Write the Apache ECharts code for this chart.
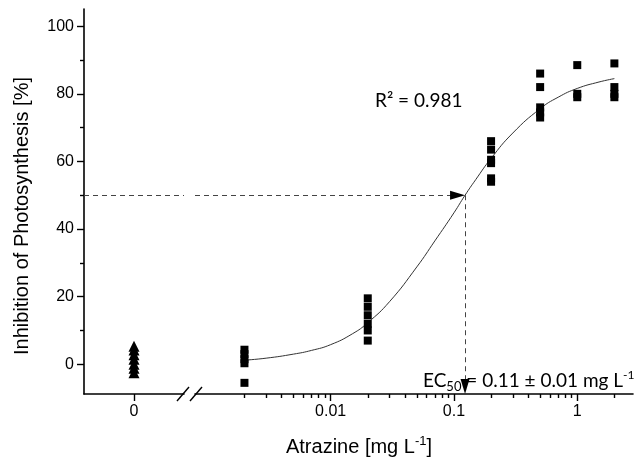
<!DOCTYPE html>
<html>
<head>
<meta charset="utf-8">
<script src="https://cdn.jsdelivr.net/npm/echarts@6/dist/echarts.min.js"></script>
<style>html,body{margin:0;padding:0;background:#fff}#c{width:638px;height:464px}</style>
</head>
<body>
<div id="c"></div>
<script>
// ---- data ----
const controlValues = [5.3, 4.2, 2.8, 1.5, 0, -1.2, -2.5];           // 0 mg/L (triangles)
const doseConc = [0.002, 0.02, 0.2, 0.5, 1, 2];                       // mg/L
const doseValues = [
  [4.3, 3.0, 1.5, 0.3, -5.5],
  [19.5, 17, 14.5, 12, 10, 7],
  [66, 63.5, 60.5, 59.5, 55, 54],
  [86, 82, 76, 74.5, 73],
  [88.5, 80, 79],
  [89, 82, 80, 79]
];
const fitConc = [0.002, 0.003, 0.005, 0.007, 0.01, 0.015, 0.02, 0.03, 0.05, 0.07, 0.1, 0.123, 0.15, 0.2, 0.3, 0.5, 0.7, 1, 1.5, 2];
const fitValues = [1.2, 1.8, 3.0, 4.1, 5.8, 9.0, 12.3, 18.5, 28.8, 36.5, 44.8, 50, 54.6, 60.9, 68.4, 75.6, 79, 81.6, 83.5, 84.5];
const ec50 = 0.123;
const xTickConc = [0.01, 0.1, 1];
const xTickLabels = ['0.01', '0.1', '1'];
const xMinorConc = [0.002,0.003,0.004,0.005,0.006,0.007,0.008,0.009,
                    0.02,0.03,0.04,0.05,0.06,0.07,0.08,0.09,
                    0.2,0.3,0.4,0.5,0.6,0.7,0.8,0.9,2];
const yTicks = [0, 20, 40, 60, 80, 100];
const yMinorTicks = [10, 30, 50, 70, 90];

const lg = v => Math.log10(v);
const Y_MIN = -8.8, Y_MAX = 105.1;
const X_LOG_MIN = -3.10, X_LOG_MAX = 0.452;

const squares = [];
doseConc.forEach((c, i) => doseValues[i].forEach(v => squares.push([lg(c), v])));
const fitLine = fitConc.map((c, i) => [lg(c), fitValues[i]]);
const triangles = controlValues.map(v => [0, v]);

const FONT = 'Liberation Sans, Arial, sans-serif';
const axisLineStyle = {color: '#000', width: 1.6};
const tickStyle = {color: '#000', width: 1.4};
const dash = {color: '#444', width: 1, type: [5, 4]};

const chart = echarts.init(document.getElementById('c'), null, {renderer: 'canvas'});
chart.setOption({
  animation: false,
  backgroundColor: '#fff',
  grid: [
    {left: 84, width: 100, top: 9, height: 385, containLabel: false, outerBoundsMode: 'none'},
    {left: 195, right: 5, top: 9, height: 385, containLabel: false, outerBoundsMode: 'none'}
  ],
  xAxis: [
    {gridIndex: 0, type: 'value', min: -1, max: 1, position: 'bottom',
     axisLine: {show: true, onZero: false, lineStyle: axisLineStyle},
     axisTick: {show: true, length: 7, lineStyle: tickStyle, customValues: [0]},
     axisLabel: {show: true, customValues: [0], formatter: () => '0', fontSize: 16, color: '#000', fontFamily: FONT, margin: 10},
     splitLine: {show: false}},
    {gridIndex: 1, type: 'value', min: X_LOG_MIN, max: X_LOG_MAX, position: 'bottom',
     axisLine: {show: true, onZero: false, lineStyle: axisLineStyle},
     axisTick: {show: true, length: 7, lineStyle: tickStyle, customValues: xTickConc.map(lg)},
     axisLabel: {show: true, customValues: xTickConc.map(lg), fontSize: 16, color: '#000', fontFamily: FONT, margin: 10,
       formatter: v => { let best = 0; xTickConc.forEach((c, i) => { if (Math.abs(lg(c) - v) < Math.abs(lg(xTickConc[best]) - v)) best = i; }); return xTickLabels[best]; }},
     splitLine: {show: false}},
    {gridIndex: 1, type: 'value', min: X_LOG_MIN, max: X_LOG_MAX, position: 'bottom',
     axisLine: {show: false, onZero: false},
     axisTick: {show: true, length: 4, lineStyle: tickStyle, customValues: xMinorConc.map(lg)},
     axisLabel: {show: false},
     splitLine: {show: false}}
  ],
  yAxis: [
    {gridIndex: 0, type: 'value', min: Y_MIN, max: Y_MAX, position: 'left',
     axisLine: {show: true, onZero: false, lineStyle: axisLineStyle},
     axisTick: {show: true, length: 7, lineStyle: tickStyle, customValues: yTicks},
     axisLabel: {show: true, customValues: yTicks, fontSize: 16, color: '#000', fontFamily: FONT, margin: 10},
     splitLine: {show: false}},
    {gridIndex: 0, type: 'value', min: Y_MIN, max: Y_MAX, position: 'left',
     axisLine: {show: false, onZero: false},
     axisTick: {show: true, length: 4, lineStyle: tickStyle, customValues: yMinorTicks},
     axisLabel: {show: false},
     splitLine: {show: false}},
    {gridIndex: 1, type: 'value', min: Y_MIN, max: Y_MAX, show: false}
  ],
  series: [
    {type: 'scatter', xAxisIndex: 0, yAxisIndex: 0, data: triangles,
     symbol: 'triangle', symbolSize: 11,
     itemStyle: {color: '#000', borderWidth: 0, opacity: 1},
     markLine: {silent: true, symbol: ['none', 'none'], lineStyle: dash, label: {show: false},
       data: [[{coord: [-1, 50]}, {coord: [1, 50]}]]}},
    {type: 'line', xAxisIndex: 1, yAxisIndex: 2, data: fitLine, smooth: 0.5,
     showSymbol: false, lineStyle: {color: '#333', width: 1}, z: 1,
     markLine: {silent: true, symbol: ['none', 'none'],
       lineStyle: dash, label: {show: false},
       data: [
         [{coord: [X_LOG_MIN, 50]}, {coord: [lg(ec50), 50]}],
         [{coord: [lg(ec50), 50]}, {coord: [lg(ec50), Y_MIN]}]
       ]},
     markPoint: {silent: true, label: {show: false}, itemStyle: {color: '#000'},
       data: [
         {coord: [lg(ec50), 50], symbol: 'triangle', symbolSize: [9, 15], symbolRotate: -90, symbolOffset: [-7.5, 0]},
         {coord: [lg(ec50), Y_MIN], symbol: 'triangle', symbolSize: [9, 15], symbolRotate: 180, symbolOffset: [0, -7.5]}
       ]}},
    {type: 'scatter', xAxisIndex: 1, yAxisIndex: 2, data: squares,
     symbol: 'rect', symbolSize: 8, itemStyle: {color: '#000', opacity: 1}, z: 3}
  ],
  graphic: [
    {type: 'line', shape: {x1: 177, y1: 401, x2: 189, y2: 387}, style: {stroke: '#000', lineWidth: 1.4}},
    {type: 'line', shape: {x1: 190, y1: 401, x2: 202, y2: 387}, style: {stroke: '#000', lineWidth: 1.4}},
    {type: 'text', x: 22, y: 216, rotation: Math.PI / 2,
     style: {text: 'Inhibition of Photosynthesis [%]', font: '20px ' + FONT, fill: '#000', align: 'center', verticalAlign: 'middle'}},
    {type: 'text', x: 359, y: 447,
     style: {text: '{a|Atrazine [mg L}{s|-1}{a|]}', align: 'center', verticalAlign: 'middle',
       rich: {a: {fontSize: 20, fontFamily: FONT, fill: '#000', lineHeight: 24},
              s: {fontSize: 13, fontFamily: FONT, fill: '#000', verticalAlign: 'top', lineHeight: 24}}}},
    {type: 'text', x: 375, y: 101,
     style: {text: 'R² = 0.981', font: '19px Lato', fill: '#000', verticalAlign: 'middle'}},
    {type: 'text', x: 423, y: 381,
     style: {text: '{a|EC}{b|50}{a| = 0.11 ± 0.01 mg L}{s|-1}', verticalAlign: 'middle',
       rich: {a: {fontSize: 19, fontFamily: 'Lato', fill: '#000', lineHeight: 24},
              b: {fontSize: 13, fontFamily: 'Lato', fill: '#000', verticalAlign: 'bottom', lineHeight: 24},
              s: {fontSize: 12, fontFamily: 'Lato', fill: '#000', verticalAlign: 'top', lineHeight: 24}}}}
  ]
});
</script>
</body>
</html>
